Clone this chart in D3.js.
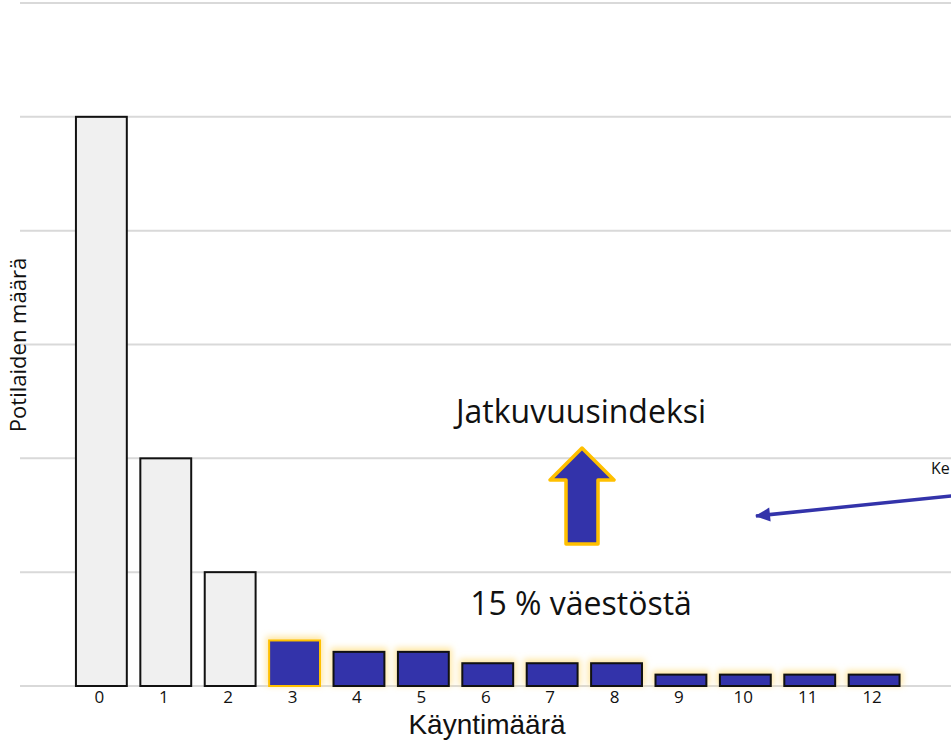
<!DOCTYPE html>
<html>
<head>
<meta charset="utf-8">
<script src="https://cdn.jsdelivr.net/npm/d3@7"></script>
<style>
  body { margin: 0; background: #fff; }
  svg { display: block; }
</style>
</head>
<body>
<svg id="chart" width="951" height="741"></svg>
<script>
/* data */
const categories = ['0','1','2','3','4','5','6','7','8','9','10','11','12']
const counts = [500, 200, 100, 40, 30, 30, 20, 20, 20, 10, 10, 10, 10]
const highlight_from = 3   // käynnit >= 3 korostetaan
const y_ticks = [0, 100, 200, 300, 400, 500, 600]

const width = 951, height = 741
const svg = d3.select('#chart')

const color_blue = '#3333aa', color_gold = '#ffc000', color_grey = '#f0f0f0'
const font_main = 'Open Sans, sans-serif'

/* scales */
const x = d3.scaleBand()
    .domain(categories)
    .range([69.5, 906])
    .paddingInner(0.21)
    .paddingOuter(0.1)

const y = d3.scaleLinear()
    .domain([0, 600])
    .range([686, 3])

/* glow filter */
const defs = svg.append('defs')
const glow = defs.append('filter')
    .attr('id', 'glow')
    .attr('x', '-30%').attr('y', '-60%')
    .attr('width', '160%').attr('height', '220%')
glow.append('feGaussianBlur').attr('stdDeviation', 3)

defs.append('marker')
    .attr('id', 'arrow_head')
    .attr('markerUnits', 'userSpaceOnUse')
    .attr('markerWidth', 18)
    .attr('markerHeight', 18)
    .attr('viewBox', '0 0 18 18')
    .attr('refX', 16)
    .attr('refY', 9)
    .attr('orient', 'auto')
    .append('path')
    .attr('d', 'M2,2 L17,9 L2,16 Z')
    .style('fill', color_blue)

/* gridlines */
svg.append('g')
    .selectAll('line')
    .data(y_ticks)
    .join('line')
    .attr('x1', 20)
    .attr('x2', width)
    .attr('y1', d => y(d))
    .attr('y2', d => y(d))
    .attr('stroke', '#d9d9d9')
    .attr('stroke-width', 2)

/* glow behind highlighted bars */
const bar_data = categories.map((c, i) => ({ cat: c, v: counts[i], hl: i >= highlight_from, first: i === highlight_from }))

svg.append('g')
    .attr('filter', 'url(#glow)')
    .selectAll('rect')
    .data(bar_data.filter(d => d.hl))
    .join('rect')
    .attr('x', d => x(d.cat) - 3)
    .attr('y', d => y(d.v) - 4)
    .attr('width', x.bandwidth() + 6)
    .attr('height', d => y(0) - y(d.v) + 4)
    .attr('fill', '#ffe08a')
    .attr('opacity', 0.8)

/* bars */
svg.append('g')
    .selectAll('rect')
    .data(bar_data)
    .join('rect')
    .attr('x', d => x(d.cat))
    .attr('y', d => y(d.v))
    .attr('width', x.bandwidth())
    .attr('height', d => y(0) - y(d.v))
    .attr('fill', d => d.hl ? color_blue : color_grey)
    .attr('stroke', d => d.first ? color_gold : '#111')
    .attr('stroke-width', 2)

/* x tick labels */
svg.append('g')
    .selectAll('text')
    .data(categories)
    .join('text')
    .attr('x', d => x(d) + x.bandwidth() / 2 - 2)
    .attr('y', 703)
    .attr('text-anchor', 'middle')
    .style('font-family', font_main)
    .style('font-size', '17px')
    .attr('fill', '#111')
    .text(d => d)

/* axis titles */
svg.append('text')
    .attr('x', 487)
    .attr('y', 734)
    .attr('text-anchor', 'middle')
    .style('font-family', 'Liberation Sans, sans-serif')
    .style('font-size', '28px')
    .attr('fill', '#111')
    .text('Käyntimäärä')

svg.append('text')
    .attr('transform', 'translate(26,345) rotate(-90)')
    .attr('text-anchor', 'middle')
    .style('font-family', font_main)
    .style('font-size', '22px')
    .attr('fill', '#111')
    .text('Potilaiden määrä')

/* annotations */
svg.append('text')
    .attr('x', 581)
    .attr('y', 423)
    .attr('text-anchor', 'middle')
    .style('font-family', font_main)
    .style('font-size', '32px')
    .attr('fill', '#111')
    .text('Jatkuvuusindeksi')

svg.append('text')
    .attr('x', 581)
    .attr('y', 615)
    .attr('text-anchor', 'middle')
    .style('font-family', font_main)
    .style('font-size', '32px')
    .attr('fill', '#111')
    .text('15 % väestöstä')

/* up arrow */
const ax = 582, atop = 448
svg.append('path')
    .attr('d', `M${ax},${atop} L${ax+32},${atop+32} L${ax+16},${atop+32} L${ax+16},${atop+96} L${ax-16},${atop+96} L${ax-16},${atop+32} L${ax-32},${atop+32} Z`)
    .attr('fill', color_blue)
    .attr('stroke', color_gold)
    .attr('stroke-width', 3.5)
    .attr('stroke-linejoin', 'round')

/* side arrow + label at the edge as in the original */
svg.append('line')
    .attr('x1', 960)
    .attr('y1', 495)
    .attr('x2', 756)
    .attr('y2', 516)
    .attr('stroke', color_blue)
    .attr('stroke-width', 3.5)
    .attr('marker-end', 'url(#arrow_head)')

svg.append('text')
    .attr('x', 931)
    .attr('y', 474)
    .style('font-family', font_main)
    .style('font-size', '16px')
    .attr('fill', '#111')
    .text('Ke')
</script>
</body>
</html>
